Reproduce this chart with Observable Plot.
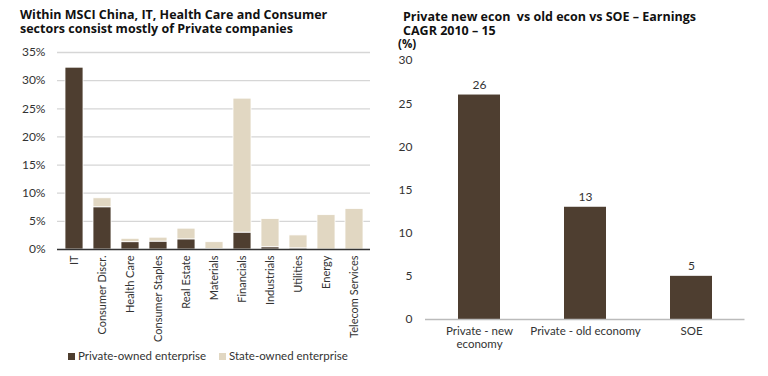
<!DOCTYPE html>
<html><head><meta charset="utf-8">
<script src="https://cdn.jsdelivr.net/npm/d3@7"></script>
<script src="https://cdn.jsdelivr.net/npm/@observablehq/plot@0.6"></script>
<style>
body{margin:0;background:#fff;font-family:Lato,sans-serif;color:#222;}
#wrap{position:relative;width:768px;height:376px;overflow:hidden;}
.title{position:absolute;font-family:"Open Sans",sans-serif;font-weight:bold;font-size:12.5px;line-height:14px;color:#111;white-space:nowrap;}
.abs{position:absolute;}
.abs svg{overflow:visible;}
.leg{position:absolute;top:349px;font-size:11.5px;line-height:14px;color:#333;white-space:nowrap;}
.sw{display:inline-block;width:7px;height:7px;margin-right:3px;vertical-align:0px;}
</style></head>
<body><div id="wrap">
<div class="title" style="left:20px;top:8px;">Within MSCI China, IT, Health Care and Consumer</div>
<div class="title" style="left:20px;top:22px;">sectors consist mostly of Private companies</div>
<div id="left" class="abs" style="left:0;top:40px;"></div>
<div class="leg" style="left:68px;"><span class="sw" style="background:#4e3e30"></span>Private-owned enterprise</div>
<div class="leg" style="left:219px;"><span class="sw" style="background:#e1d7c2"></span>State-owned enterprise</div>
<div class="title" style="left:403px;top:10px;">Private new econ&nbsp; vs old econ vs SOE – Earnings</div>
<div class="title" style="left:403px;top:24px;">CAGR 2010 – 15</div>
<div class="title" style="left:398px;top:38px;font-size:11.5px;line-height:12px;">(%)</div>
<div id="right" class="abs" style="left:384px;top:52px;"></div>
</div>
<script>
const sectors = ["IT","Consumer Discr.","Health Care","Consumer Staples","Real Estate","Materials","Financials","Industrials","Utilities","Energy","Telecom Services"];
const privateShare = [32.3, 7.5, 1.3, 1.4, 1.8, 0.1, 3.0, 0.4, 0.2, 0.0, 0.0];
const stateShare   = [0.0, 1.6, 0.6, 0.7, 1.9, 1.2, 23.8, 5.0, 2.3, 6.1, 7.2];
const seriesNames = ["Private-owned enterprise","State-owned enterprise"];
const yTicksLeft = [0,5,10,15,20,25,30,35];

const groups = ["Private - new\neconomy","Private - old economy","SOE"];
const cagr = [26, 13, 5];
const yTicksRight = [0,5,10,15,20,25,30];

const colors = ["#4e3e30","#e1d7c2"];

const rows = [];
sectors.forEach((s,i)=>{
  rows.push({sector:s, series:seriesNames[0], v:privateShare[i]});
  rows.push({sector:s, series:seriesNames[1], v:stateShare[i]});
});

const left = Plot.plot({
  width:384, height:308,
  marginLeft:57, marginRight:14, marginTop:12, marginBottom:99,
  style:{fontFamily:"Lato, sans-serif", fontSize:"11px", color:"#333", overflow:"visible"},
  x:{domain:sectors, paddingInner:0.37, paddingOuter:0.185, label:null},
  y:{domain:[0,35], label:null},
  color:{domain:seriesNames, range:colors},
  marks:[
    Plot.gridY(yTicksLeft.filter(d=>d>0), {stroke:"#d6d6d6", strokeOpacity:1, strokeWidth:1.3}),
    Plot.barY(rows, Plot.stackY({x:"sector", y:"v", fill:"series", order:seriesNames, stroke:"#fff", strokeWidth:0.8})),
    Plot.ruleY([0], {stroke:"#333", strokeWidth:1.3}),
    Plot.axisY({ticks:yTicksLeft, tickFormat:d=>d+"%", tickSize:0, tickPadding:12, fontSize:12, label:null}),
    Plot.axisX({tickSize:0, tickPadding:6, tickRotate:-90, fontSize:11, label:null})
  ]
});
document.getElementById("left").appendChild(left);

const rdata = groups.map((g,i)=>({g, v:cagr[i]}));
const right = Plot.plot({
  width:384, height:310,
  marginLeft:41, marginRight:23.5, marginTop:8, marginBottom:43,
  style:{fontFamily:"Lato, sans-serif", fontSize:"12px", color:"#333", overflow:"visible"},
  x:{domain:groups, paddingInner:0.6, paddingOuter:0.3, label:null},
  y:{domain:[0,30], label:null},
  marks:[
    Plot.barY(rdata, {x:"g", y:"v", fill:colors[0]}),
    Plot.text(rdata, {x:"g", y:"v", text:d=>String(d.v), dy:-10, fill:"#333", fontSize:12}),
    Plot.ruleY([0], {stroke:"#bbb", strokeWidth:1.5}),
    Plot.axisY({ticks:yTicksRight, tickSize:0, tickPadding:13, fontSize:12, label:null}),
    Plot.axisX({tickSize:0, tickPadding:6, fontSize:11.5, lineHeight:1.15, label:null})
  ]
});
document.getElementById("right").appendChild(right);
</script>
</body></html>
